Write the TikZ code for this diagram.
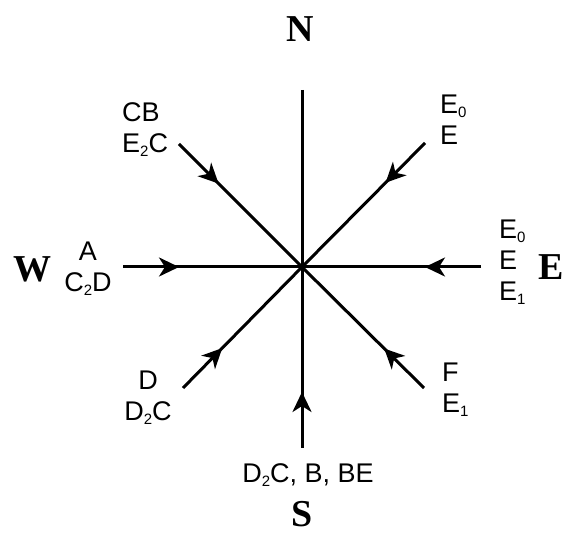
\documentclass[tikz,border=0pt]{standalone}
\usepackage{fontspec}
\setmainfont{Liberation Sans}
\newfontfamily\compassfont{Liberation Serif}
\usetikzlibrary{arrows.meta,decorations.markings}
\newcommand\lowidx[1]{\raisebox{-4pt}{\fontsize{15}{15}\selectfont #1}}
\tikzset{
  ray/.style={line width=3pt,draw=black},
  inray/.style={ray,postaction={decorate},decoration={markings,
    mark=at position 56pt with {\arrow{Stealth[length=20pt,width=19pt,inset=6pt]}}}},
  compass/.style={font=\compassfont\bfseries\fontsize{38}{38}\selectfont,inner sep=0pt},
  tag/.style={font=\fontsize{27}{31}\selectfont,inner sep=0pt}
}
\begin{document}
\begin{tikzpicture}[x=1pt,y=-1pt]
  \useasboundingbox (0,0) rectangle (576,534);
  % centre and outer ends of the rays
  \coordinate (hub) at (302,267);
  \coordinate (n)  at (302,90);
  \coordinate (ne) at (425,143);
  \coordinate (e)  at (481,267);
  \coordinate (se) at (424,388);
  \coordinate (s)  at (302,448);
  \coordinate (sw) at (183,388);
  \coordinate (w)  at (123,267);
  \coordinate (nw) at (179,144);
  \draw[ray] (n) -- (hub);
  \foreach \d in {ne,e,se,s,sw,w,nw}{
    \draw[inray] (\d) -- (hub);
  }
  % compass letters
  \node[compass,anchor=base] (north) at (300,42) {N};
  \node[compass,anchor=base] (south) at (302,526) {S};
  \node[compass,anchor=base] (west)  at (32,282) {W};
  \node[compass,anchor=base] (east)  at (551,280) {E};
  % ray labels (anchored on the last line)
  \node[tag,anchor=base west,align=left] (nwtag) at (122,153) {CB\\E\lowidx{2}C};
  \node[tag,anchor=base west,align=left] (netag) at (440,145) {E\lowidx{0}\\E};
  \node[tag,anchor=base west,align=left] (etag)  at (499,301) {E\lowidx{0}\\E\\E\lowidx{1}};
  \node[tag,anchor=base,align=center]    (wtag)  at (88,292)  {A\\C\lowidx{2}D};
  \node[tag,anchor=base,align=center]    (swtag) at (148,421) {D\\D\lowidx{2}C};
  \node[tag,anchor=base west,align=left] (setag) at (442,413) {F\\E\lowidx{1}};
  \node[tag,anchor=base]                 (stag)  at (308,483) {D\lowidx{2}C, B, BE};
\end{tikzpicture}
\end{document}
